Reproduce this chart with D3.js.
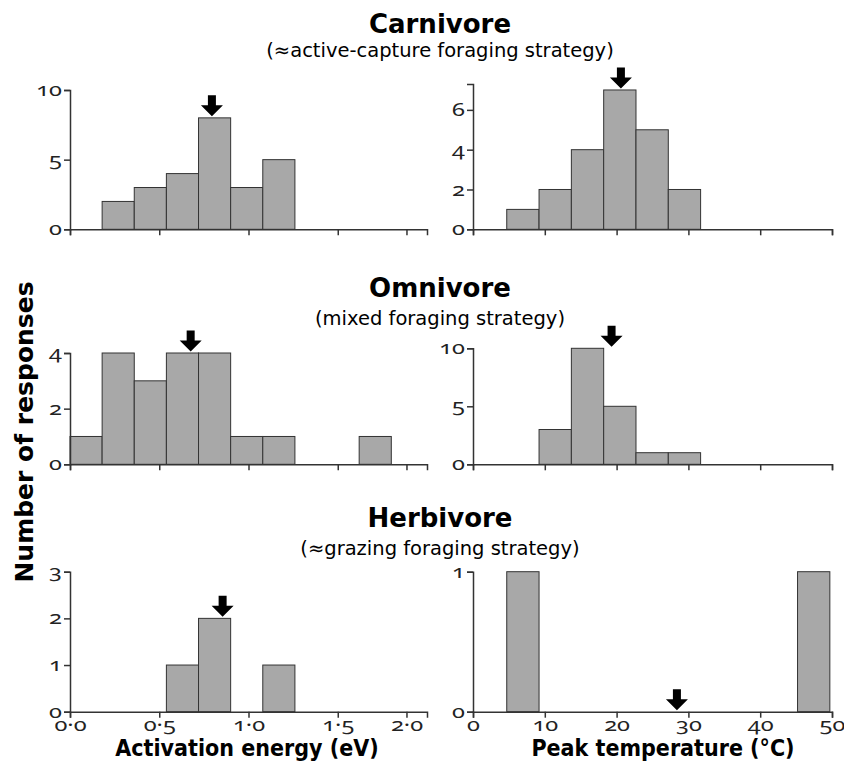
<!DOCTYPE html>
<html lang="en">
<head>
<meta charset="UTF-8">
<title>Activation energy and peak temperature by foraging strategy</title>
<script src="https://d3js.org/d3.v7.min.js"></script>
<style>
    body { margin: 0; background: #fff; }
    svg { display: block; font-family: "DejaVu Sans", sans-serif; }
    .tick text {
        font-family: "Noto Sans", sans-serif;
        font-variant-numeric: oldstyle-nums;
        font-size: 17.5px;
        fill: #222;
    }
    .axis path, .axis line { stroke: #333; stroke-width: 1.5px; }
    .bar { fill: #a8a8a8; stroke: #333; stroke-width: 1px; }
    .xlabel { font-family: "DejaVu Sans Condensed", "DejaVu Sans", sans-serif; font-stretch: condensed; font-weight: bold; font-size: 23px; }
</style>
</head>
<body>
<div id="chart"></div>
<script>
    const groups = ["Carnivore", "Omnivore", "Herbivore"];
    const subtitles = ["(≈active-capture foraging strategy)", "(mixed foraging strategy)", "(≈grazing foraging strategy)"];

    // histogram counts, one entry per bin starting at the first bin edge
    const energyBinStart = 0, energyBinWidth = 0.18;
    const energyCounts = [
        [0, 2, 3, 4, 8, 3, 5],
        [1, 4, 3, 4, 4, 1, 1, 0, 0, 1],
        [0, 0, 0, 1, 2, 0, 1]
    ];
    const tempBinStart = 4.7, tempBinWidth = 4.5;
    const tempCounts = [
        [1, 2, 4, 7, 5, 2],
        [0, 3, 10, 5, 1, 1],
        [1, 0, 0, 0, 0, 0, 0, 0, 0, 1]
    ];

    // median arrows: x position and the bar level they sit on
    const energyArrowX = [0.795, 0.676, 0.855];
    const energyArrowLevel = [8, 4, 2];
    const tempArrowX = [20.6, 19.3, 28.4];
    const tempArrowLevel = [7, 10, 0];

    const energyTicks = [0, 0.5, 1, 1.5, 1.885];
    const energyTickLabels = ["0·0", "0·5", "1·0", "1·5", "2·0"];
    const tempTicks = [0, 10, 20, 30, 40, 50];
    const energyYTicks = [[0, 5, 10], [0, 2, 4], [0, 1, 2, 3]];
    const tempYTicks = [[0, 2, 4, 6], [0, 5, 10], [0, 1]];
    const energyYMax = [10, 4, 3];
    const tempYMax = [7.3, 10, 1];

    const width = 844, height = 761;
    const rowBase = [229.3, 464.3, 711.7];
    const rowTopLeft = [90, 353, 571.7];
    const rowTopRight = [84, 348.3, 571.7];
    const titleY = [33, 297, 527];
    const subY = [57, 325, 555];
    const stretch = 1.35; // tick digits are drawn wide in the original

    const svg = d3.select("#chart").append("svg")
        .attr("width", width)
        .attr("height", height);

    const xE = d3.scaleLinear().domain([0, 2]).range([70, 427]);
    const xT = d3.scaleLinear().domain([0, 50]).range([473, 832]);

    const arrowPath = "M0,0 L-11,-11 L-4,-11 L-4,-21 L4,-21 L4,-11 L11,-11 Z";

    function panel(x, counts, binStart, binWidth, y, yTicks, xTicks, xLabels, showLabels, arrowX, arrowLevel) {
        const bins = counts.map((c, i) => ({
            x0: binStart + i * binWidth,
            x1: binStart + (i + 1) * binWidth,
            c: c
        })).filter(d => d.c > 0);

        svg.append("g").selectAll("rect")
            .data(bins)
            .enter().append("rect")
            .attr("class", "bar")
            .attr("x", d => x(d.x0))
            .attr("width", d => x(d.x1) - x(d.x0))
            .attr("y", d => y(d.c))
            .attr("height", d => y(0) - y(d.c));

        const xAxis = d3.axisBottom(x).tickValues(xTicks).tickSizeOuter(0).tickSize(6).tickPadding(1)
            .tickFormat((d, i) => showLabels ? xLabels[i] : "");
        const gx = svg.append("g").attr("class", "axis")
            .attr("transform", `translate(0,${y(0)})`)
            .call(xAxis);
        gx.selectAll(".tick text")
            .attr("transform", `scale(${stretch},1)`);

        const yAxis = d3.axisLeft(y).tickValues(yTicks).tickSizeOuter(0).tickSize(6).tickPadding(2)
            .tickFormat(d3.format("d"));
        const gy = svg.append("g").attr("class", "axis")
            .attr("transform", `translate(${x(0)},0)`)
            .call(yAxis);
        gy.selectAll(".tick text")
            .attr("x", -8 / stretch)
            .attr("transform", `scale(${stretch},1)`);

        svg.append("path")
            .attr("d", arrowPath)
            .attr("fill", "#000")
            .attr("transform", `translate(${x(arrowX)},${y(arrowLevel) - 1.5})`);
    }

    groups.forEach((g, r) => {
        svg.append("text")
            .attr("x", 440).attr("y", titleY[r])
            .attr("text-anchor", "middle")
            .style("font-weight", "bold").style("font-size", "26px")
            .text(g);
        svg.append("text")
            .attr("x", 440).attr("y", subY[r])
            .attr("text-anchor", "middle")
            .style("font-size", "19.5px")
            .text(subtitles[r]);

        const last = r === groups.length - 1;
        const yE = d3.scaleLinear().domain([0, energyYMax[r]]).range([rowBase[r], rowTopLeft[r]]);
        const yT = d3.scaleLinear().domain([0, tempYMax[r]]).range([rowBase[r], rowTopRight[r]]);
        panel(xE, energyCounts[r], energyBinStart, energyBinWidth, yE, energyYTicks[r],
            energyTicks, energyTickLabels, last, energyArrowX[r], energyArrowLevel[r]);
        panel(xT, tempCounts[r], tempBinStart, tempBinWidth, yT, tempYTicks[r],
            tempTicks, tempTicks.map(String), last, tempArrowX[r], tempArrowLevel[r]);
    });

    svg.append("text")
        .attr("transform", "translate(33,432) rotate(-90)")
        .attr("text-anchor", "middle")
        .style("font-weight", "bold").style("font-size", "25px")
        .text("Number of responses");

    svg.append("text")
        .attr("class", "xlabel")
        .attr("x", 247).attr("y", 756)
        .attr("text-anchor", "middle")
        .text("Activation energy (eV)");
    svg.append("text")
        .attr("class", "xlabel")
        .attr("x", 663).attr("y", 756)
        .attr("text-anchor", "middle")
        .text("Peak temperature (°C)");
</script>
</body>
</html>
